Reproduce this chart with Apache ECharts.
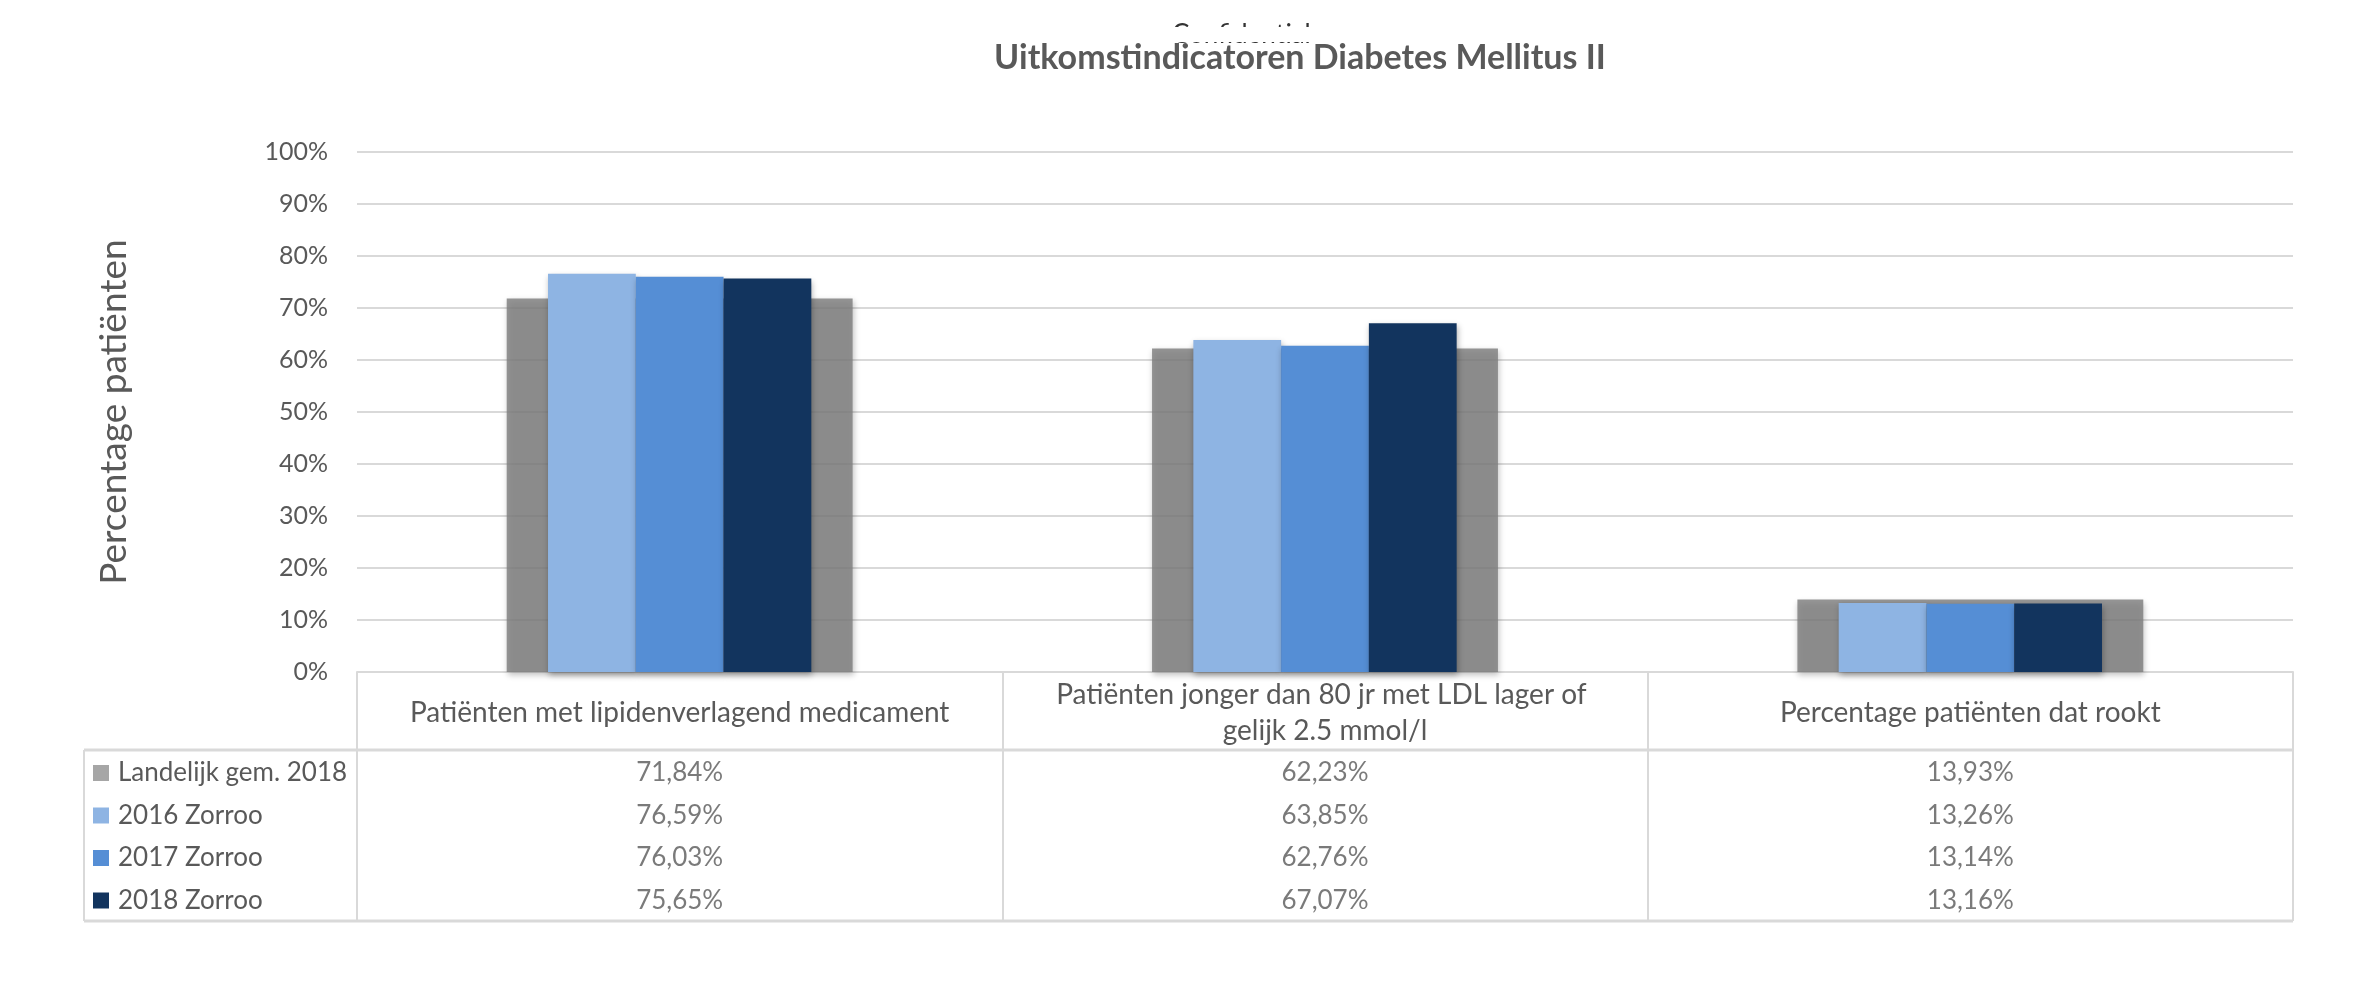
<!DOCTYPE html>
<html>
<head>
<meta charset="utf-8">
<script src="https://cdn.jsdelivr.net/npm/echarts@6/dist/echarts.min.js"></script>
<style>
html,body{margin:0;padding:0;background:#fff;}
#chart{width:2374px;height:999px;}
</style>
</head>
<body>
<div id="chart"></div>
<script>
// ---- data ----
const categories = [
  'Patiënten met lipidenverlagend medicament',
  'Patiënten jonger dan 80 jr met LDL lager of gelijk 2.5 mmol/l',
  'Percentage patiënten dat rookt'
];
const seriesNames = ['Landelijk gem. 2018', '2016 Zorroo', '2017 Zorroo', '2018 Zorroo'];
const landelijk2018 = [71.84, 62.23, 13.93];
const zorroo2016 = [76.59, 63.85, 13.26];
const zorroo2017 = [76.03, 62.76, 13.14];
const zorroo2018 = [75.65, 67.07, 13.16];
const titleText = 'Uitkomstindicatoren Diabetes Mellitus II';
const yAxisName = 'Percentage patiënten';

// ---- style / layout ----
const FONT = 'Lato, "Noto Sans", sans-serif';
const TXT = '#595959';
const LINE = '#d9d9d9';
const barColors = ['rgba(127,127,127,0.82)', '#8eb4e3', '#558ed5', '#12345e'];
const legendColors = ['#a6a6a6', '#8eb4e3', '#558ed5', '#12345e'];
const G_LEFT = 357, G_RIGHT = 2293, G_TOP = 152, G_BOTTOM = 672;
const T_LEFT = 84, T_HEAD = 750, T_BOTTOM = 921;

const allValues = [landelijk2018, zorroo2016, zorroo2017, zorroo2018];
const fmt = v => v.toFixed(2).replace('.', ',') + '%';

const tableData = [];
allValues.forEach((arr, r) => arr.forEach((v, c) => tableData.push([c, r, v])));

const shadow = {shadowBlur: 6, shadowOffsetY: 3, shadowOffsetX: 1, shadowColor: 'rgba(0,0,0,0.3)'};

const chart = echarts.init(document.getElementById('chart'));
const richLegend = {t: {fontFamily: FONT, fontSize: 26, color: TXT, padding: [0, 0, 0, 9]}};
seriesNames.forEach((n, i) => {
  richLegend['s' + i] = {width: 16, height: 16, backgroundColor: legendColors[i]};
});

chart.setOption({
  animation: false,
  backgroundColor: '#fff',
  title: {
    text: titleText,
    left: 1295, top: 36,
    textAlign: 'center',
    textStyle: {fontFamily: FONT, fontSize: 34, fontWeight: 'bold', color: TXT}
  },
  graphic: [
    {type: 'text', x: 1172, y: 22, z: 1,
     style: {text: 'Confidential', font: '26px ' + FONT, fill: '#333', verticalAlign: 'top', textVerticalAlign: 'top'}},
    {type: 'rect', shape: {x: 1100, y: 27, width: 400, height: 15}, z: 2, style: {fill: '#fff'}},
    {type: 'line', shape: {x1: T_LEFT, y1: T_HEAD, x2: G_RIGHT, y2: T_HEAD}, style: {stroke: LINE, lineWidth: 3}},
    {type: 'line', shape: {x1: T_LEFT, y1: T_BOTTOM, x2: G_RIGHT, y2: T_BOTTOM}, style: {stroke: LINE, lineWidth: 3}},
    {type: 'line', shape: {x1: T_LEFT, y1: T_HEAD, x2: T_LEFT, y2: T_BOTTOM}, style: {stroke: LINE, lineWidth: 2}}
  ],
  grid: [
    {left: G_LEFT, right: 2374 - G_RIGHT, top: G_TOP, bottom: 999 - G_BOTTOM},
    {left: G_LEFT, right: 2374 - G_RIGHT, top: 751.75, height: 170}
  ],
  xAxis: [
    {
      type: 'category', gridIndex: 0, data: categories,
      axisLine: {show: true, lineStyle: {color: LINE, width: 2}},
      axisTick: {show: true, length: T_BOTTOM - G_BOTTOM, lineStyle: {color: LINE, width: 2}},
      axisLabel: {
        fontFamily: FONT, fontSize: 28, color: TXT, margin: 41,
        verticalAlign: 'middle', lineHeight: 36, width: 565, overflow: 'break', interval: 0
      },
      splitLine: {show: false}
    },
    {type: 'category', gridIndex: 0, data: categories, show: false},
    {type: 'category', gridIndex: 1, data: categories, show: false}
  ],
  yAxis: [
    {
      type: 'value', gridIndex: 0, min: 0, max: 100, interval: 10,
      name: yAxisName, nameLocation: 'middle', nameGap: 224, nameRotate: 90,
      nameTextStyle: {fontFamily: FONT, fontSize: 37, color: TXT},
      axisLine: {show: false}, axisTick: {show: false},
      axisLabel: {formatter: '{value}%', fontFamily: FONT, fontSize: 25, color: TXT, margin: 29},
      splitLine: {lineStyle: {color: LINE, width: 2}}
    },
    {
      type: 'category', gridIndex: 1, data: seriesNames, inverse: true,
      axisLine: {show: false}, axisTick: {show: false}, splitLine: {show: false},
      axisLabel: {
        align: 'left', margin: G_LEFT - 93,
        formatter: (v, i) => '{s' + i + '|}{t|' + v + '}',
        rich: richLegend
      }
    }
  ],
  series: [
    {name: seriesNames[0], type: 'bar', xAxisIndex: 1, yAxisIndex: 0, data: landelijk2018,
     barWidth: '53.6%', z: 1, itemStyle: Object.assign({color: barColors[0]}, shadow)},
    {name: seriesNames[1], type: 'bar', xAxisIndex: 0, yAxisIndex: 0, data: zorroo2016,
     barWidth: '13.6%', barGap: '0%', z: 3, itemStyle: Object.assign({color: barColors[1]}, shadow)},
    {name: seriesNames[2], type: 'bar', xAxisIndex: 0, yAxisIndex: 0, data: zorroo2017,
     barWidth: '13.6%', barGap: '0%', z: 3, itemStyle: Object.assign({color: barColors[2]}, shadow)},
    {name: seriesNames[3], type: 'bar', xAxisIndex: 0, yAxisIndex: 0, data: zorroo2018,
     barWidth: '13.6%', barGap: '0%', z: 3, itemStyle: Object.assign({color: barColors[3]}, shadow)},
    {
      type: 'scatter', xAxisIndex: 2, yAxisIndex: 1, data: tableData,
      symbolSize: 1, itemStyle: {color: 'transparent'},
      label: {show: true, position: 'inside', formatter: p => fmt(p.value[2]),
              fontFamily: FONT, fontSize: 26, color: TXT}
    }
  ]
});
</script>
</body>
</html>
